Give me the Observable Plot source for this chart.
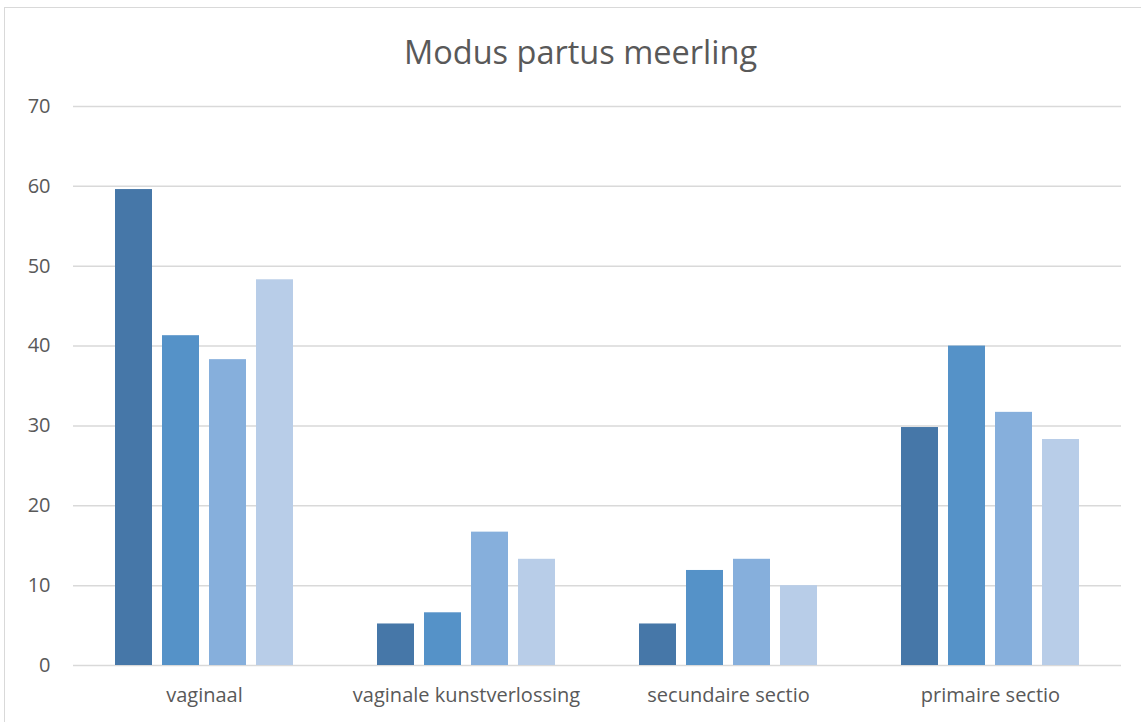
<!DOCTYPE html>
<html>
<head>
<meta charset="utf-8">
<script src="https://cdn.jsdelivr.net/npm/d3@7"></script>
<script src="https://cdn.jsdelivr.net/npm/@observablehq/plot@0.6"></script>
<style>
  html, body { margin: 0; padding: 0; background: #fff; }
  #wrap { position: relative; width: 1141px; height: 722px; overflow: hidden; font-family: "Open Sans", sans-serif; }
  #frame { position: absolute; left: 4px; top: 7px; width: 1150px; height: 730px; border: 1px solid #d9d9d9; box-sizing: border-box; }
  #title { position: absolute; left: 0; width: 1161px; top: 29px; text-align: center; font-size: 32.5px; color: #595959; }
  #chart { position: absolute; left: 0; top: 0; }
</style>
</head>
<body>
<div id="wrap">
  <div id="frame"></div>
  <div id="chart"></div>
  <div id="title">Modus partus meerling</div>
</div>
<script>
const categories = ["vaginaal", "vaginale kunstverlossing", "secundaire sectio", "primaire sectio"];
const seriesNames = ["reeks 1", "reeks 2", "reeks 3", "reeks 4"];
const series1 = [59.6, 5.2, 5.2, 29.8];
const series2 = [41.3, 6.6, 11.9, 40.0];
const series3 = [38.3, 16.7, 13.3, 31.7];
const series4 = [48.3, 13.3, 10.0, 28.3];
const colors = ["#4677a8", "#5592c8", "#86afdc", "#b8cde8"];
const yTicks = [0, 10, 20, 30, 40, 50, 60, 70];

const allSeries = [series1, series2, series3, series4];
const data = [];
categories.forEach((c, i) => {
  allSeries.forEach((s, j) => data.push({category: c, series: seriesNames[j], value: s[i]}));
});

const chart = Plot.plot({
  width: 1141,
  height: 722,
  marginTop: 106,
  marginBottom: 57,
  marginLeft: 72,
  marginRight: 19,
  style: {fontFamily: "Open Sans, sans-serif", fontSize: "20px", color: "#595959", background: "transparent"},
  fx: {domain: categories, padding: 0, label: null, axis: "bottom", tickSize: 0, tickPadding: 22},
  x: {domain: seriesNames, paddingInner: 0.21, paddingOuter: 0.84, axis: null},
  y: {domain: [0, 70], ticks: yTicks, label: null, tickSize: 0, tickPadding: 23},
  color: {domain: seriesNames, range: colors},
  marks: [
    Plot.ruleY(yTicks, {stroke: "#d9d9d9", strokeWidth: 1.5}),
    Plot.barY(data, {fx: "category", x: "series", y: "value", fill: "series"})
  ]
});
document.getElementById("chart").appendChild(chart);
</script>
</body>
</html>
